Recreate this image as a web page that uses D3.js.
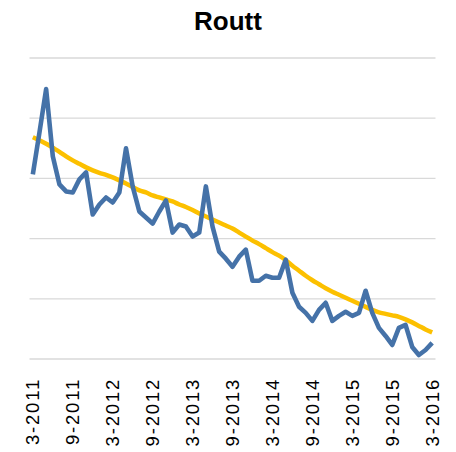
<!DOCTYPE html>
<html>
<head>
<meta charset="utf-8">
<script src="https://cdn.jsdelivr.net/npm/d3@7"></script>
<style>
  body { margin: 0; background: #fff; }
  svg { display: block; font-family: "Liberation Sans", Arial, sans-serif; }
</style>
</head>
<body>
<svg width="456" height="452"></svg>
<script>
const months = [
  '3-2011','4-2011','5-2011','6-2011','7-2011','8-2011','9-2011','10-2011','11-2011','12-2011',
  '1-2012','2-2012','3-2012','4-2012','5-2012','6-2012','7-2012','8-2012','9-2012','10-2012','11-2012','12-2012',
  '1-2013','2-2013','3-2013','4-2013','5-2013','6-2013','7-2013','8-2013','9-2013','10-2013','11-2013','12-2013',
  '1-2014','2-2014','3-2014','4-2014','5-2014','6-2014','7-2014','8-2014','9-2014','10-2014','11-2014','12-2014',
  '1-2015','2-2015','3-2015','4-2015','5-2015','6-2015','7-2015','8-2015','9-2015','10-2015','11-2015','12-2015',
  '1-2016','2-2016','3-2016'
]
const tickLabels = ['3-2011','9-2011','3-2012','9-2012','3-2013','9-2013','3-2014','9-2014','3-2015','9-2015','3-2016']

// monthly values (unitless)
const actual = [
  184, 226, 269, 202, 174, 167, 166, 179, 186, 144,
  154, 161, 156, 166, 210, 172, 147, 141, 135, 147, 158, 126,
  134, 132, 122, 126, 172, 132, 107, 100, 92, 102, 109, 78,
  78, 83, 81, 81, 99, 66, 52, 46, 38, 49, 56, 38,
  43, 47, 43, 46, 68, 46, 31, 23, 14, 31, 34, 12,
  4, 9, 16
]
const trend = [
  221, 218, 214.5, 210.5, 206.5, 202, 198, 194.5, 191, 188,
  185.5, 183.5, 181, 178, 175, 171.5, 168, 166, 163, 161, 159, 157,
  154, 151.5, 148.5, 145, 142, 139, 136, 133, 130, 126, 122, 118,
  114.5, 110.5, 106.5, 103, 98.5, 93, 88, 83, 78.5, 74.5, 70.5, 67,
  64, 61, 58, 55, 52, 49, 46.5, 45, 43.5, 42, 39.5, 36.5,
  33, 29.5, 26.5
]
const gridValues = [0, 60, 120, 180, 240, 300]

const svg = d3.select('svg')
const width = +svg.attr('width')

const xScale = d3.scaleBand()
  .domain(months)
  .range([29.5, 435.5])
  .padding(0)

const xPos = m => xScale(m) + xScale.bandwidth() / 2

const yScale = d3.scaleLinear()
  .domain([0, 300])
  .range([359, 58])

// title
svg.append('text')
  .attr('x', width / 2)
  .attr('y', 30)
  .attr('text-anchor', 'middle')
  .style('font-size', '26px')
  .style('font-weight', 'bold')
  .text('Routt')

// gridlines
svg.append('g').selectAll('line').data(gridValues)
  .enter().append('line')
    .attr('x1', 29.5)
    .attr('x2', 435.5)
    .attr('y1', d => yScale(d))
    .attr('y2', d => yScale(d))
    .attr('stroke', '#d9d9d9')
    .attr('stroke-width', 1.3)

// x axis labels
const xAxis = d3.axisBottom(xScale)
  .tickValues(tickLabels)
  .tickSize(0)
  .tickPadding(0)

const axisG = svg.append('g')
  .attr('transform', 'translate(0, 359)')
  .call(xAxis)
axisG.select('.domain').remove()
axisG.selectAll('text')
  .attr('transform', 'rotate(-90)')
  .attr('x', -19)
  .attr('y', 0)
  .attr('dy', '0.35em')
  .attr('text-anchor', 'end')
  .style('font-size', '18.5px')
  .style('letter-spacing', '1.8px')
  .style('font-family', '"Liberation Sans", Arial, sans-serif')
  .attr('fill', '#000')

const line = d3.line()
  .x((d, i) => xPos(months[i]))
  .y(d => yScale(d))

svg.append('path')
  .datum(trend)
  .attr('fill', 'none')
  .attr('stroke', '#fcc000')
  .attr('stroke-width', 4.5)
  .attr('stroke-linejoin', 'round')
  .attr('d', line.curve(d3.curveMonotoneX))

svg.append('path')
  .datum(actual)
  .attr('fill', 'none')
  .attr('stroke', '#4572a8')
  .attr('stroke-width', 4.6)
  .attr('stroke-linejoin', 'round')
  .attr('d', line.curve(d3.curveLinear))
</script>
</body>
</html>
